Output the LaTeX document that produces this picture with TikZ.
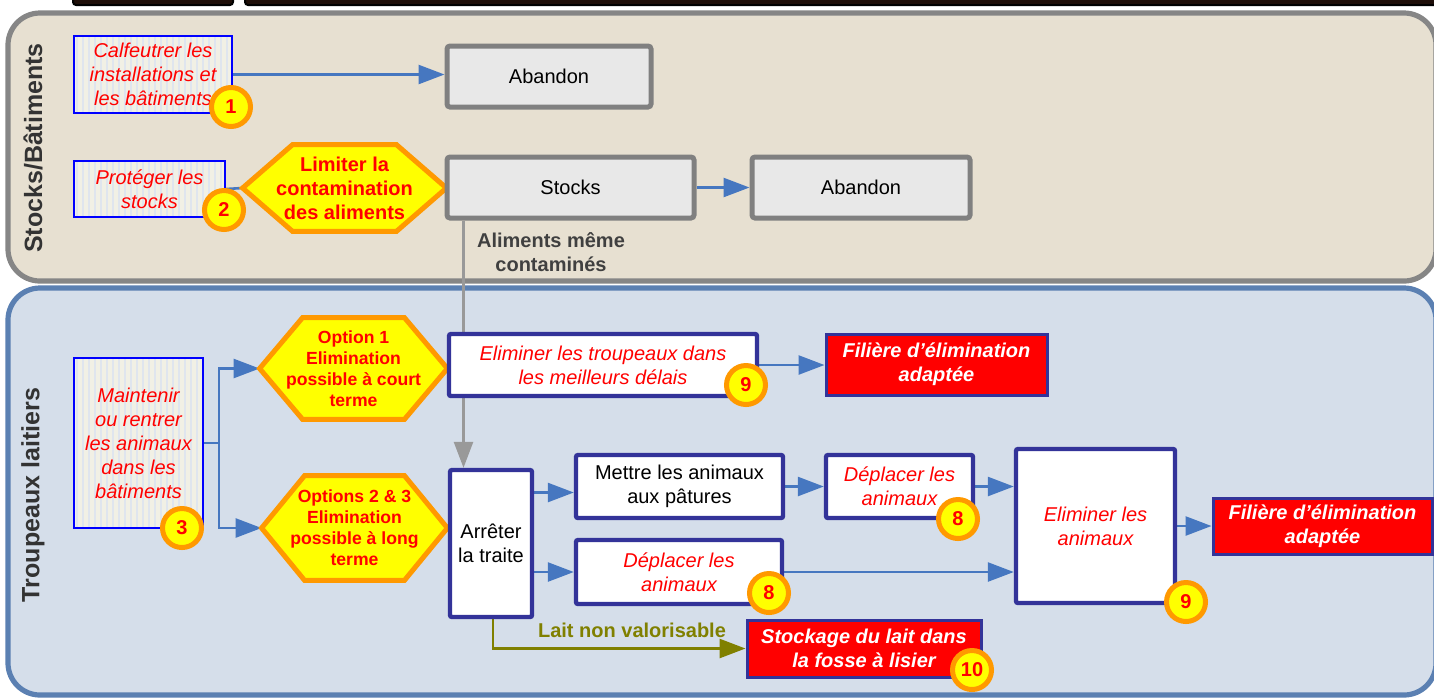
\documentclass[tikz,border=0pt]{standalone}
\usepackage{fontspec}
\setmainfont{Liberation Sans}
\usetikzlibrary{arrows.meta,calc}
\definecolor{beige}{HTML}{E7E0D1}
\definecolor{panelgray}{HTML}{868686}
\definecolor{paleblue}{HTML}{D5DEEA}
\definecolor{panelblue}{HTML}{5B80B2}
\definecolor{boxgray}{HTML}{E8E8E8}
\definecolor{edgegray}{HTML}{808080}
\definecolor{navy}{HTML}{333399}
\definecolor{arrowblue}{HTML}{4677C0}
\definecolor{hexyellow}{HTML}{FFFF00}
\definecolor{hexorange}{HTML}{FF9900}
\definecolor{txtred}{HTML}{FF0000}
\definecolor{olivec}{HTML}{808000}
\definecolor{stripeA}{HTML}{F1F0E5}
\definecolor{stripeB}{HTML}{DFE5EE}
\definecolor{labelgray}{HTML}{333333}
\definecolor{notegray}{HTML}{404040}
\definecolor{linegray}{HTML}{999999}
\definecolor{barfill}{HTML}{1E0E08}
\pgfdeclarelayer{panels}
\pgfdeclarelayer{links}
\pgfdeclarelayer{shapes}
\pgfsetlayers{panels,links,shapes,main}
\tikzset{
  base/.style={inner sep=0pt, align=center, font=\fontsize{10}{12}\selectfont},
  sz/.style n args={2}{minimum width=#1pt, minimum height=#2pt},
  graybox/.style={base, draw=edgegray, fill=boxgray, line width=2.5pt, rounded corners=1.5pt},
  navybox/.style={base, draw=navy, fill=white, line width=2.2pt, rounded corners=1pt},
  redbox/.style={base, draw=navy, fill=red, line width=1.5pt, text=white, font=\fontsize{10}{12}\selectfont\bfseries\itshape},
  redit/.style={text=txtred, font=\fontsize{10}{12}\selectfont\itshape},
  stripebox/.style={base, draw=blue, line width=0.8pt, fill=stripeA, text=txtred,
    font=\fontsize{10}{12}\selectfont\itshape,
    path picture={\foreach \k in {0,...,60}{\fill[stripeB] ([xshift=\k*3pt+0.9pt]path picture bounding box.south west) rectangle ([xshift=\k*3pt+2.1pt]path picture bounding box.north west);}}},
  hexshape/.style={draw=hexorange, fill=hexyellow, line width=2.5pt, line join=miter},
  hextext/.style={inner sep=0pt, align=center, text=txtred, font=\fontsize{10}{12}\selectfont\bfseries},
  hexsmall/.style={hextext, font=\fontsize{8.8}{10.5}\selectfont\bfseries},
  badge/.style={circle, draw=hexorange, fill=hexyellow, line width=2.5pt, minimum size=19.5pt, inner sep=0pt, text=txtred, font=\fontsize{10}{12}\selectfont\bfseries},
  link/.style={draw=arrowblue, line width=1.3pt, -{Triangle[length=13pt,width=9.5pt]}},
  plainlink/.style={draw=arrowblue, line width=1.3pt},
  graylink/.style={draw=linegray, line width=1.3pt, -{Triangle[length=13pt,width=9.5pt]}},
  olivelink/.style={draw=olivec, line width=1.3pt, -{Triangle[length=13pt,width=9.5pt]}},
  panellabel/.style={rotate=90, text=labelgray, font=\fontsize{12.5}{15}\selectfont\bfseries},
  note/.style={align=center, font=\fontsize{10}{12}\selectfont\bfseries},
}
\begin{document}
\begin{tikzpicture}[x=0.5pt,y=-0.5pt]
\useasboundingbox (0,0) rectangle (1434,698);
\begin{pgfonlayer}{panels}
  \draw[fill=barfill, draw=black, line width=1pt, rounded corners=1.5pt] (73,-10) rectangle (233,5);
  \draw[fill=barfill, draw=black, line width=1pt, rounded corners=1.5pt] (245,-10) rectangle (1450,5);
  \draw[fill=beige, draw=panelgray, line width=2.6pt, rounded corners=16pt] (8,13) rectangle (1436,281);
  \draw[fill=paleblue, draw=panelblue, line width=2.6pt, rounded corners=16pt] (8,288) rectangle (1436,695);
\end{pgfonlayer}
\node[panellabel] (lab1) at (33,148) {Stocks/Bâtiments};
\node[panellabel] (lab2) at (33,495) {Troupeaux laitiers};
% top panel
\node[stripebox, sz={79}{38.5}] (calf) at (153,74.5) {Calfeutrer les\\installations et\\les bâtiments};
\node[graybox, sz={102}{30.5}] (ab1) at (549,76.5) {Abandon};
\node[stripebox, sz={75.5}{28}] (prot) at (149.5,189) {Protéger les\\stocks};
\node[hextext, sz={101.5}{43}] (hexA) at (344.5,188) {Limiter la\\contamination\\des aliments};
\node[graybox, sz={123.5}{30.5}] (stocks) at (570.5,187.5) {Stocks};
\node[graybox, sz={109}{30.5}] (ab2) at (861,187.5) {Abandon};
\node[note, text=notegray] (alim) at (551,252) {Aliments même\\contaminés};
% bottom panel
\node[stripebox, sz={64.5}{85}] (maint) at (138.5,443) {Maintenir\\ou rentrer\\les animaux\\dans les\\bâtiments};
\node[hexsmall, sz={93.5}{50.5}] (hexB) at (353.5,368.5) {Option 1\\Elimination\\possible à court\\terme};
\node[hexsmall, sz={92.5}{52}] (hexC) at (354.5,528) {Options 2 \& 3\\Elimination\\possible à long\\terme};
\node[navybox, redit, sz={154}{31}] (elimt) at (603,365) {Eliminer les troupeaux dans\\les meilleurs délais};
\node[redbox, sz={110.5}{30.5}] (fil1) at (936.5,364.5) {Filière d’élimination\\adaptée};
\node[navybox, sz={41}{73.5}] (arret) at (491,543.5) {Arrêter\\la traite};
\node[navybox, sz={103.5}{31.5}] (mettre) at (679.5,486.5) {Mettre les animaux\\aux pâtures};
\node[navybox, redit, sz={73.5}{31.5}] (dep1) at (899.5,486.5) {Déplacer les\\animaux};
\node[navybox, redit, sz={103}{32}] (dep2) at (679,572) {Déplacer les\\animaux};
\node[navybox, redit, sz={79.5}{77}] (elima) at (1095.5,526) {Eliminer les\\animaux};
\node[redbox, sz={109.5}{28}] (fil2) at (1322.5,526) {Filière d’élimination\\adaptée};
\node[redbox, sz={117}{28.5}] (stock) at (864,648.5) {Stockage du lait dans\\la fosse à lisier};
\node[note, text=olivec] (lait) at (632,630) {Lait non valorisable};
% hexagon outlines
\begin{pgfonlayer}{shapes}
  \draw[hexshape] (hexA.west) -- ([xshift=25pt]hexA.north west) -- ([xshift=-25pt]hexA.north east) -- (hexA.east) -- ([xshift=-25pt]hexA.south east) -- ([xshift=25pt]hexA.south west) -- cycle;
  \draw[hexshape] (hexB.west) -- ([xshift=21.5pt]hexB.north west) -- ([xshift=-21.5pt]hexB.north east) -- (hexB.east) -- ([xshift=-21.5pt]hexB.south east) -- ([xshift=21.5pt]hexB.south west) -- cycle;
  \draw[hexshape] (hexC.west) -- ([xshift=21.5pt]hexC.north west) -- ([xshift=-21.5pt]hexC.north east) -- (hexC.east) -- ([xshift=-21.5pt]hexC.south east) -- ([xshift=21.5pt]hexC.south west) -- cycle;
\end{pgfonlayer}
% connectors
\begin{pgfonlayer}{links}
  \draw[link] (calf.east) -- (calf.east -| ab1.west);
  \draw[plainlink] (prot.east) -- (hexA.west);
  \draw[link] (stocks.east) -- (ab2.west);
  \coordinate (g1) at ([xshift=9.5pt]stocks.south west);
  \draw[graylink] (g1) -- (g1 |- arret.north);
  \coordinate (mj) at ([xshift=7.5pt]maint.east);
  \draw[plainlink] (maint.east) -- (mj);
  \draw[link] (mj) |- (hexB.west);
  \draw[link] (mj) |- (hexC.west);
  \draw[link] (elimt.east) -- (elimt.east -| fil1.west);
  \draw[link] ([yshift=-3pt]mettre.west -| arret.east) -- ([yshift=-3pt]mettre.west);
  \draw[link] (arret.east |- dep2.west) -- (dep2.west);
  \draw[link] (mettre.east) -- (dep1.west);
  \draw[link] (dep1.east) -- (dep1.east -| elima.west);
  \draw[link] (dep2.east) -- (dep2.east -| elima.west);
  \draw[link] (elima.east) -- (elima.east -| fil2.west);
  \draw[olivelink] ([xshift=1pt]arret.south) |- (stock.west);
\end{pgfonlayer}
% badges
\node[badge] (b1) at (231,107) {1};
\node[badge] (b2) at (224,210) {2};
\node[badge] (b3) at (182,528) {3};
\node[badge] (b9a) at (746,385) {9};
\node[badge] (b8a) at (958,519) {8};
\node[badge] (b8b) at (769,593) {8};
\node[badge] (b9b) at (1186,602) {9};
\node[badge] (b10) at (972,670) {10};
\end{tikzpicture}
\end{document}
